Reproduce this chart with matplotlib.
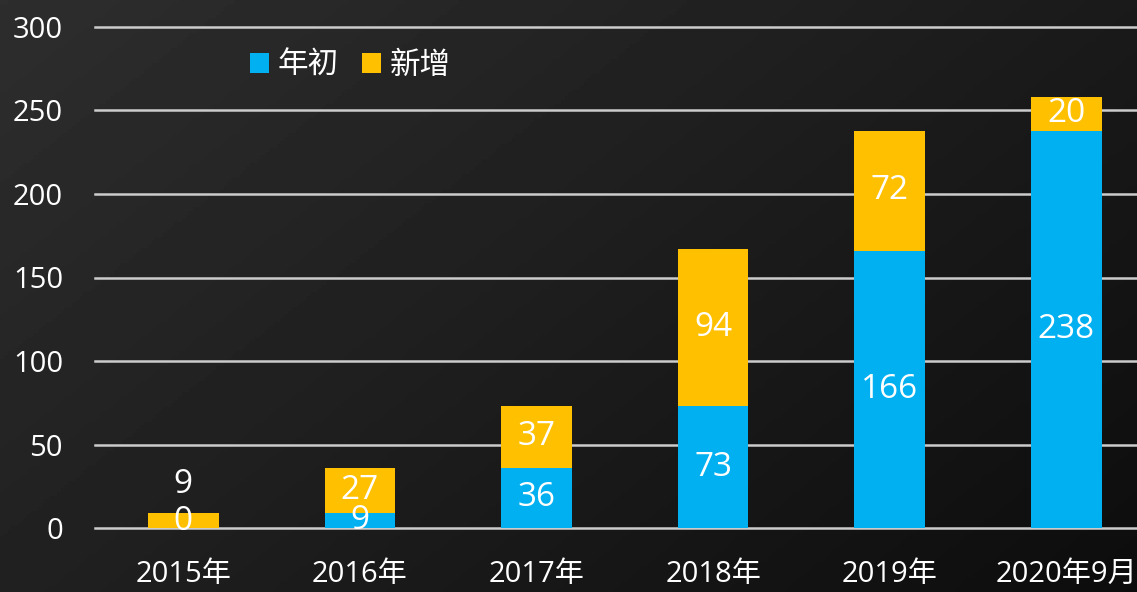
import matplotlib
matplotlib.use("Agg")
import matplotlib.pyplot as plt
import numpy as np

categories = ["2015年", "2016年", "2017年", "2018年", "2019年", "2020年9月"]
start_vals = [0, 9, 36, 73, 166, 238]
new_vals = [9, 27, 37, 94, 72, 20]
series_names = ["年初", "新增"]
yticks = [0, 50, 100, 150, 200, 250, 300]

blue = "#00B0F0"
yellow = "#FFC000"
grid_c = "#cccccc"

plt.rcParams["font.family"] = ["Open Sans", "Noto Sans CJK SC", "DejaVu Sans"]

fig = plt.figure(figsize=(11.37, 5.92), dpi=100)

# dark gradient background
bg = fig.add_axes([0, 0, 1, 1])
gx, gy = np.meshgrid(np.linspace(0, 1, 300), np.linspace(0, 1, 160))
shade = 0.18 - 0.13 * (0.6 * gx + 0.4 * gy)
bg.imshow(shade, cmap="gray", vmin=0, vmax=1, aspect="auto", extent=[0, 1, 0, 1])
bg.set_axis_off()

ax = fig.add_axes([95 / 1137, 64 / 592, 1 - 95 / 1137, (528 - 27) / 592])
ax.patch.set_alpha(0)

x = np.arange(len(categories))
w = 0.4
ax.bar(x, start_vals, w, color=blue, label=series_names[0], zorder=3)
ax.bar(x, new_vals, w, bottom=start_vals, color=yellow, label=series_names[1], zorder=3)

for t in yticks:
    ax.axhline(t, color=grid_c, lw=1.8, zorder=1, clip_on=False)

# data labels
for i in range(len(categories)):
    s, n = start_vals[i], new_vals[i]
    ys = s / 2
    yn = s + n / 2
    if s == 0:
        ys = 4
        yn = 26
    ax.text(x[i], ys, str(s), ha="center", va="center", color="white",
            fontsize=24, zorder=4)
    ax.text(x[i], yn, str(n), ha="center", va="center", color="white",
            fontsize=24, zorder=4)

ax.set_xlim(-0.5, 5.40)
ax.set_ylim(0, 300)
ax.set_xticks(x)
ax.set_xticklabels(categories, fontsize=21, color="white")
ax.set_yticks(yticks)
ax.set_yticklabels([str(t) for t in yticks], fontsize=21, color="white")
ax.tick_params(axis="x", length=0, pad=23)
ax.tick_params(axis="y", length=0, pad=23)
for sp in ax.spines.values():
    sp.set_visible(False)

leg = ax.legend(loc="center left", bbox_to_anchor=(0.122, 0.922), ncol=2,
                frameon=False, fontsize=22, labelcolor="white",
                handlelength=0.62, handleheight=0.62, handletextpad=0.3,
                columnspacing=0.75)

fig.savefig("out.png", dpi=100)
